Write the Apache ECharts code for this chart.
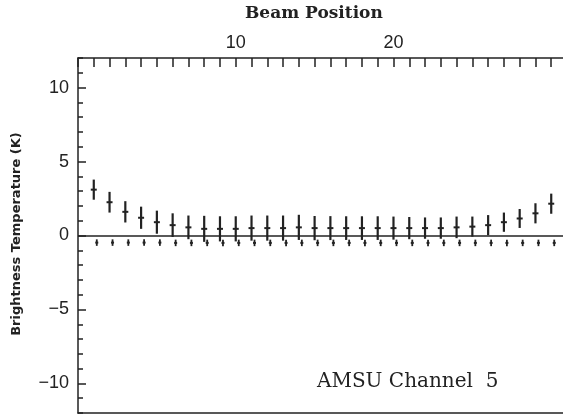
<!DOCTYPE html>
<html>
<head>
<meta charset="utf-8">
<script src="https://cdn.jsdelivr.net/npm/echarts@6/dist/echarts.min.js"></script>
<style>
html,body{margin:0;padding:0;background:#fff;}
#chart{width:563px;height:415px;}
</style>
</head>
<body>
<div id="chart"></div>
<script>
// Beam positions (x)
const beamPositions = [1,2,3,4,5,6,7,8,9,10,11,12,13,14,15,16,17,18,19,20,21,22,23,24,25,26,27,28,29,30];
// Upper series: mean brightness temperature difference (K)
const meanValues = [3.1,2.25,1.6,1.2,0.9,0.7,0.55,0.45,0.45,0.45,0.5,0.5,0.5,0.55,0.5,0.5,0.5,0.5,0.5,0.5,0.5,0.5,0.5,0.55,0.6,0.7,0.9,1.15,1.5,2.15];
// Upper series: error bar half-lengths (K)
const meanErrors = [0.68,0.7,0.72,0.75,0.78,0.8,0.8,0.88,0.85,0.85,0.85,0.85,0.85,0.85,0.82,0.81,0.8,0.8,0.8,0.78,0.75,0.72,0.72,0.73,0.68,0.68,0.65,0.64,0.68,0.68];
// Lower series: values and error half-lengths (K)
const lowerValues = [-0.48,-0.48,-0.48,-0.48,-0.48,-0.5,-0.5,-0.5,-0.5,-0.5,-0.5,-0.5,-0.5,-0.5,-0.5,-0.5,-0.5,-0.5,-0.5,-0.5,-0.5,-0.5,-0.5,-0.5,-0.5,-0.5,-0.5,-0.5,-0.5,-0.5];
const lowerErrors = [0.22,0.22,0.22,0.22,0.22,0.22,0.22,0.22,0.22,0.22,0.22,0.22,0.22,0.22,0.22,0.22,0.22,0.22,0.22,0.22,0.22,0.22,0.22,0.22,0.22,0.22,0.22,0.22,0.22,0.22];
// Tick labels
const xTickLabels = [10, 20];
const yTickLabels = [-10, -5, 0, 5, 10];

const INK = '#222';
const upperData = beamPositions.map((b,i)=>[b, meanValues[i], meanErrors[i]]);
const lowerData = beamPositions.map((b,i)=>[b, lowerValues[i], lowerErrors[i]]);

function makeRender(dx, barW, capW){
  return function(params, api){
    const x = api.value(0), y = api.value(1), e = api.value(2);
    const t = api.coord([x, y+e]);
    const b = api.coord([x, y-e]);
    const c = api.coord([x, y]);
    return {type:'group', children:[
      {type:'line', shape:{x1:t[0]+dx,y1:t[1],x2:b[0]+dx,y2:b[1]}, style:{stroke:INK,lineWidth:barW}},
      {type:'line', shape:{x1:c[0]+dx-capW,y1:c[1],x2:c[0]+dx+capW,y2:c[1]}, style:{stroke:INK,lineWidth:2}}
    ]};
  };
}

const chart = echarts.init(document.getElementById('chart'), null, {renderer:'canvas'});
chart.setOption({
  animation:false,
  backgroundColor:'#fff',
  grid:{left:78, top:58, width:489, height:355, containLabel:false, outerBoundsMode:'none'},
  xAxis:[
    {type:'value', position:'top', min:0, max:31, interval:1,
     axisLine:{show:true, onZero:false, lineStyle:{color:INK,width:1.5}},
     axisTick:{show:true, inside:true, length:9, lineStyle:{color:INK,width:1.5}},
     axisLabel:{show:true, interval:0, margin:6, color:INK, fontFamily:'Liberation Sans', fontSize:18,
       formatter:function(v){ return xTickLabels.indexOf(v)>=0 ? String(v) : ''; }},
     splitLine:{show:false}},
    {type:'value', position:'bottom', min:0, max:31,
     axisLine:{show:true, onZero:false, lineStyle:{color:INK,width:1.5}},
     axisTick:{show:false}, axisLabel:{show:false}, splitLine:{show:false}}
  ],
  yAxis:[
    {type:'value', position:'left', min:-12, max:12, interval:1,
     axisLine:{show:true, onZero:false, lineStyle:{color:INK,width:1.5}},
     axisTick:{show:true, inside:true, length:5, lineStyle:{color:INK,width:1.5}},
     axisLabel:{show:true, interval:0, margin:9, color:INK, fontFamily:'Liberation Sans', fontSize:18,
       formatter:function(v){ return yTickLabels.indexOf(v)>=0 ? (v<0 ? '\u2212'+(-v) : String(v)) : ''; }},
     splitLine:{show:false}},
    {type:'value', position:'left', min:-12, max:12,
     axisLine:{show:false},
     axisTick:{show:true, inside:true, length:8, customValues:yTickLabels, lineStyle:{color:INK,width:1.5}},
     axisLabel:{show:false}, splitLine:{show:false}}
  ],
  graphic:[
    {type:'text', left:245, top:5, style:{text:'Beam Position', fill:INK, font:'bold 17px "DejaVu Serif"'}},
    {type:'text', left:317, top:372, style:{text:'AMSU Channel  5', fill:INK, font:'20px "DejaVu Serif"'}},
    {type:'text', rotation:Math.PI/2, x:17, y:234, style:{text:'Brightness Temperature (K)', fill:INK, font:'bold 13px "DejaVu Sans"', align:'center', verticalAlign:'middle'}}
  ],
  series:[
    {type:'custom', xAxisIndex:0, yAxisIndex:0, data:upperData, renderItem:makeRender(0,2.2,3), z:3,
     markLine:{silent:true, symbol:'none', label:{show:false}, lineStyle:{color:INK,width:1.5,type:'solid'}, data:[{yAxis:0}]}},
    {type:'custom', xAxisIndex:0, yAxisIndex:0, data:lowerData, renderItem:makeRender(3,1.8,1.5), z:3}
  ]
});
</script>
</body>
</html>
